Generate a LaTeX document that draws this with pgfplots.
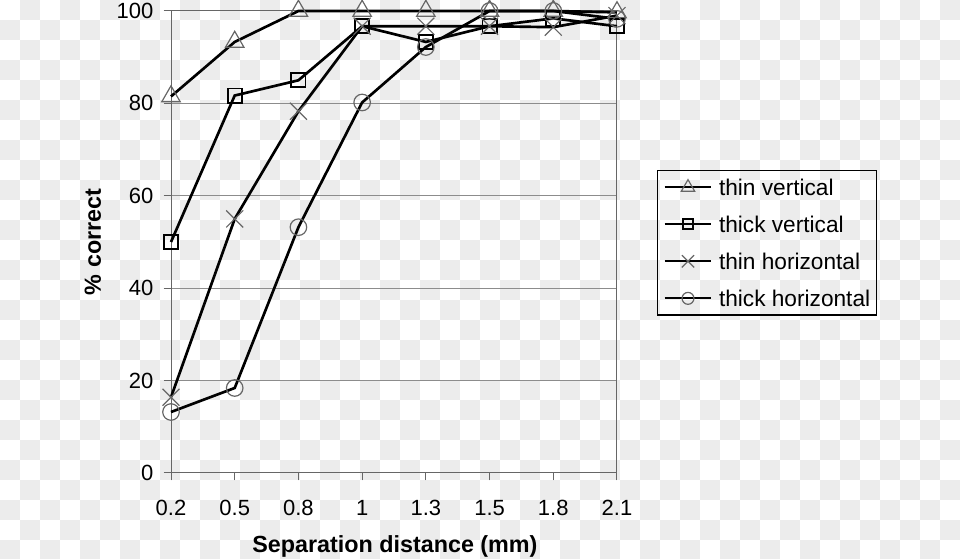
\documentclass[border=0pt]{standalone}
\usepackage{pgfplots}
\pgfplotsset{compat=1.18}
\usepackage{fontspec}
\setmainfont{Liberation Sans}
\definecolor{mk}{HTML}{666666}
\definecolor{ax}{HTML}{666666}
\definecolor{gr}{HTML}{8C8C8C}
\begin{document}
\begin{tikzpicture}
\useasboundingbox (0,0) rectangle (720pt,419.25pt);
\begin{scope}[x=0.75pt,y=0.75pt]
\clip (0,0) rectangle (960,559);
\foreach \j in {0,...,27}{
  \pgfmathtruncatemacro\s{mod(\j+1,2)}
  \pgfmathtruncatemacro\t{\s+2}
  \foreach \i in {\s,\t,...,47}{
    \fill[gray!15] (20*\i,539-20*\j) rectangle ++(20,20);
  }
}
\end{scope}
\begin{axis}[
  anchor=south west, at={(128.25pt,64.5pt)},
  scale only axis, width=334.5pt, height=346.5pt,
  xmin=0, xmax=7, ymin=0, ymax=100,
  xtick={0,...,7}, xticklabels={0.2,0.5,0.8,1,1.3,1.5,1.8,2.1},
  ytick={0,20,...,100},
  tick pos=left, tick align=outside, major tick length=5.5pt,
  tick style={ax, line width=0.75pt},
  axis line style={ax, line width=0.75pt},
  ymajorgrids, grid style={gr, line width=0.75pt},
  clip=false,
  font=\fontsize{16.5}{19}\selectfont,
  /pgf/number format/assume math mode=true,
  yticklabel style={anchor=east, inner sep=0pt, xshift=-7.5pt},
  xticklabel style={anchor=north, inner sep=0pt, yshift=-14.5pt},
  xlabel={\fontsize{17.5}{20}\selectfont\bfseries Separation distance (mm)},
  xlabel style={at={(axis description cs:0.502,-0.171)}, anchor=base, inner sep=0pt},
  ylabel={\fontsize{17.5}{20}\selectfont\bfseries \% correct},
  ylabel style={at={(axis description cs:-0.175,0.5)}, anchor=center, inner sep=0pt},
  legend style={at={(axis description cs:1.0897,0.6558)}, anchor=north west,
    draw=black, line width=1pt, fill=none,
    font=\fontsize{17}{20}\selectfont,
    inner xsep=4.5pt, inner ysep=6.5pt, row sep=15.75pt, column sep=5pt,
    nodes={inner sep=0pt, text height=12pt, text depth=0pt}},
  legend cell align=left,
  legend image code/.code={\draw[mark repeat=2,mark phase=2,#1,line width=1.5pt,/tikz/every mark/.append style={scale=0.72}] plot coordinates {(0pt,0pt) (17.5pt,0pt) (35pt,0pt)};},
]
\addplot[black, line width=2pt, mark=triangle, mark size=8pt,
  mark options={draw=mk, line width=0.9pt, fill=none}]
  coordinates {(0,81.5) (1,93.3) (2,100) (3,100) (4,100) (5,100) (6,100) (7,99.7)};
\addlegendentry{thin vertical}
\addplot[black, line width=2pt, mark=square, mark size=5.3pt,
  mark options={draw=black, line width=1.4pt, fill=none}]
  coordinates {(0,50) (1,81.7) (2,85) (3,96.7) (4,93.3) (5,96.7) (6,98.4) (7,96.7)};
\addlegendentry{thick vertical}
\addplot[black, line width=2pt, mark=x, mark size=9pt,
  mark options={draw=mk, line width=0.9pt}]
  coordinates {(0,16.4) (1,55) (2,78.3) (3,96.7) (4,96.7) (5,96.7) (6,96.5) (7,99)};
\addlegendentry{thin horizontal}
\addplot[black, line width=2pt, mark=o, mark size=6.2pt,
  mark options={draw=mk, line width=0.9pt, fill=none}]
  coordinates {(0,13.2) (1,18.4) (2,53.2) (3,80.2) (4,92.2) (5,100) (6,100) (7,98.3)};
\addlegendentry{thick horizontal}
\end{axis}
\end{tikzpicture}
\end{document}
